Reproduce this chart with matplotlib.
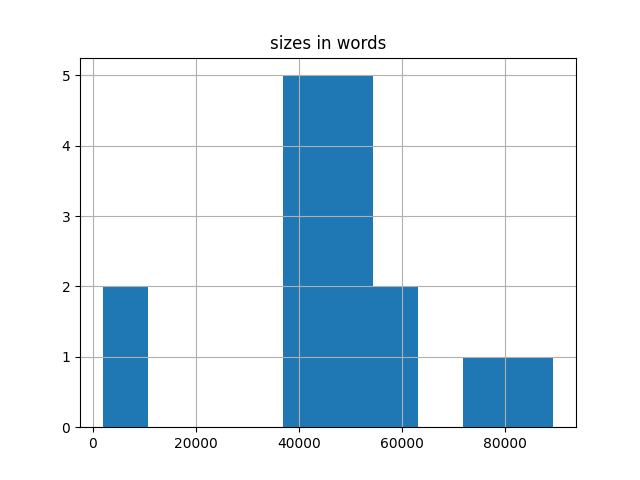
import matplotlib
matplotlib.use("Agg")
import matplotlib.pyplot as plt

sizes_in_words = [1888, 6000, 39000, 41000, 43000, 44500, 45000, 47000,
                  49000, 51000, 52500, 54000, 57000, 61000, 76000, 89470]
n_bins = 10

fig, ax = plt.subplots(figsize=(6.4, 4.8), dpi=100)
ax.hist(sizes_in_words, bins=n_bins, color="#1f77b4")
ax.grid(True)
ax.set_title("sizes in words")
fig.savefig("out.png")
